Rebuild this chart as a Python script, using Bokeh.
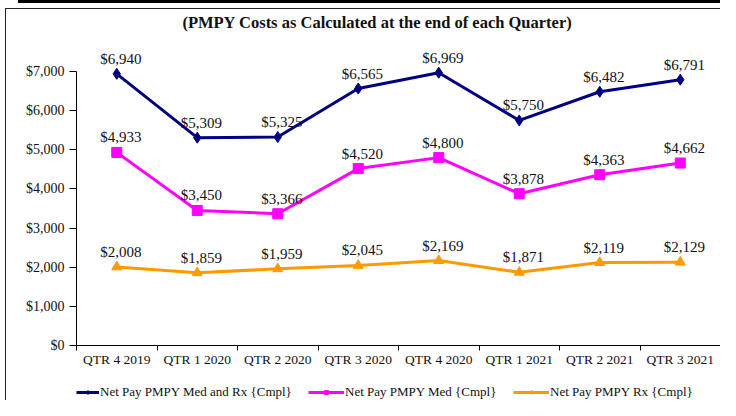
from bokeh.plotting import figure
from bokeh.layouts import column
from bokeh.models import (Range1d, FixedTicker, NumeralTickFormatter, Legend,
                          LegendItem, Label, ColumnDataSource)
from bokeh.core.properties import value
from bokeh.embed import file_html
from bokeh.resources import INLINE

# ---- data ----
categories = ["QTR 4 2019", "QTR 1 2020", "QTR 2 2020", "QTR 3 2020",
              "QTR 4 2020", "QTR 1 2021", "QTR 2 2021", "QTR 3 2021"]
med_rx = [6940, 5309, 5325, 6565, 6969, 5750, 6482, 6791]
med = [4933, 3450, 3366, 4520, 4800, 3878, 4363, 4662]
rx = [2008, 1859, 1959, 2045, 2169, 1871, 2119, 2129]
series_names = ["Net Pay PMPY Med and Rx {Cmpl}", "Net Pay PMPY Med {Cmpl}",
                "Net Pay PMPY Rx {Cmpl}"]
y_ticks = [0, 1000, 2000, 3000, 4000, 5000, 6000, 7000]
title_text = "(PMPY  Costs as Calculated  at the end of each Quarter)"

# ---- styles ----
FONT = "Liberation Serif"
TXT = "#111111"
colors = ["#000080", "#FF00FF", "#FF9900"]
markers = ["diamond", "square", "triangle"]
msizes = [11, 10, 10]
lwidths = [3, 3, 3]
legend_x = [0, 232, 437]
legend_glyph_w = [23, 36, 36]

n = len(categories)
xs = [i + 0.5 for i in range(n)]
y_axis_max = 7000
frame_h, axis_h = 345, 274
y_end = y_axis_max * frame_h / axis_h

p = figure(width=720, height=371, output_backend="svg", toolbar_location=None,
           x_range=Range1d(0, n), y_range=Range1d(0, y_end),
           min_border_left=76, min_border_right=0, min_border_top=0,
           min_border_bottom=26)
p.styles = {"background": (
    "linear-gradient(#000,#000) 18px 0px / 100% 3px no-repeat, "
    "linear-gradient(#222,#222) 5px 8px / 100% 1px no-repeat, "
    "linear-gradient(#222,#222) 5px 8px / 1px 100% no-repeat, white")}
p.outline_line_color = None
p.xgrid.visible = False
p.ygrid.visible = False
p.background_fill_alpha = 0
p.border_fill_alpha = 0

# x axis: labels at category centres, tick marks on category boundaries
xa = p.xaxis[0]
xa.ticker = FixedTicker(ticks=xs, minor_ticks=list(range(n + 1)))
xa.major_label_overrides = {x: c for x, c in zip(xs, categories)}
xa.major_tick_out = 0
xa.major_tick_in = 0
xa.minor_tick_out = 5
xa.minor_tick_in = 0
xa.minor_tick_line_color = "black"
xa.axis_line_color = "black"
xa.major_label_standoff = 1
xa.major_label_text_font = FONT
xa.major_label_text_font_size = "13.5px"
xa.major_label_text_color = TXT

ya = p.yaxis[0]
ya.ticker = FixedTicker(ticks=y_ticks, minor_ticks=[])
ya.formatter = NumeralTickFormatter(format="$0,0")
ya.bounds = (0, y_axis_max)
ya.major_tick_out = 7
ya.major_tick_in = 0
ya.minor_tick_out = 0
ya.axis_line_color = "black"
ya.major_tick_line_color = "black"
ya.major_label_standoff = 5
ya.major_label_text_font = FONT
ya.major_label_text_font_size = "14px"
ya.major_label_text_color = TXT

all_series = [med_rx, med, rx]
for i, vals in enumerate(all_series):
    src = ColumnDataSource(dict(x=xs, y=vals,
                                lab=["${:,}".format(v) for v in vals]))
    p.line("x", "y", source=src, line_color=colors[i], line_width=lwidths[i])
    p.scatter("x", "y", source=src, marker=markers[i], size=msizes[i],
              fill_color=colors[i], line_color=colors[i])
    p.text("x", "y", text="lab", source=src, text_font=value(FONT),
           text_font_size="15px", text_color=TXT, text_align="center",
           text_baseline="middle", x_offset=4, y_offset=-15)

p.add_layout(Label(x=305, y=323, x_units="screen", y_units="screen",
                   text=title_text, text_align="center",
                   text_baseline="middle", text_font=FONT,
                   text_font_style="bold", text_font_size="16.5px",
                   text_color=TXT))

# ---- legend strip below the chart ----
lg = figure(width=720, height=29, output_backend="svg", toolbar_location=None,
            x_range=Range1d(0, 1), y_range=Range1d(0, 1),
            min_border_left=0, min_border_right=0, min_border_top=0,
            min_border_bottom=0, x_axis_location=None, y_axis_location=None)
lg.styles = {"background": (
    "linear-gradient(#222,#222) 5px 0px / 1px 100% no-repeat, white")}
lg.outline_line_color = None
lg.xgrid.visible = False
lg.ygrid.visible = False
lg.background_fill_alpha = 0
lg.border_fill_alpha = 0

for i, vals in enumerate(all_series):
    # same series data; it falls outside this strip's ranges, only the
    # legend samples are visible here
    src = ColumnDataSource(dict(x=xs, y=vals))
    ln = lg.line("x", "y", source=src, line_color=colors[i],
                 line_width=lwidths[i])
    sc = lg.scatter("x", "y", source=src, marker=markers[i], size=7,
                    fill_color=colors[i], line_color=colors[i])
    leg = Legend(items=[LegendItem(label=series_names[i], renderers=[ln, sc])],
                 location=(legend_x[i], 0), orientation="horizontal",
                 padding=0, margin=0, border_line_color=None,
                 background_fill_alpha=0, label_standoff=1,
                 glyph_width=legend_glyph_w[i], glyph_height=10,
                 label_height=12, label_text_font=FONT,
                 label_text_font_size="13px", label_text_color=TXT)
    lg.add_layout(leg, "center")

layout = column(p, lg, spacing=0)
open("out.html", "w").write(file_html(layout, INLINE))
